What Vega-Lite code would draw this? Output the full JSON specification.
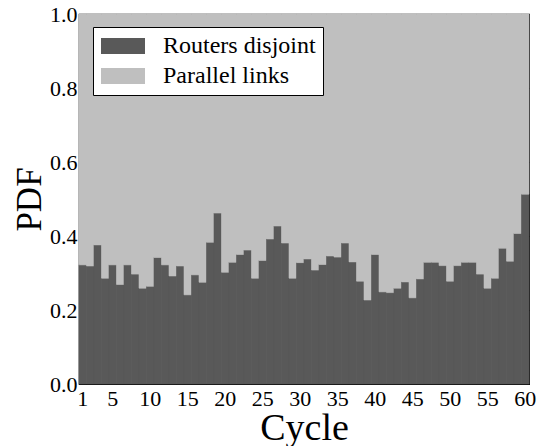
{
  "$schema": "https://vega.github.io/schema/vega-lite/v6.json",
  "width": 450,
  "height": 370,
  "autosize": "none",
  "padding": {"left": 79, "top": 14, "right": 17, "bottom": 62},
  "background": "white",
  "config": {
    "font": "Liberation Serif",
    "view": {"stroke": "#000", "strokeWidth": 1.2, "fill": "#bfbfbf"},
    "axis": {
      "domain": false,
      "grid": false,
      "tickColor": "#000",
      "tickSize": -4,
      "tickWidth": 1,
      "labelFont": "Liberation Serif",
      "labelFontSize": 22,
      "labelColor": "#000",
      "titleFont": "Liberation Serif",
      "titleColor": "#000",
      "titleFontWeight": "normal"
    },
    "legend": {"labelFont": "Liberation Serif"}
  },
  "data": {
    "values": [
      {"cycle": 1, "Routers disjoint": 0.322, "Parallel links": 0.678},
      {"cycle": 2, "Routers disjoint": 0.319, "Parallel links": 0.681},
      {"cycle": 3, "Routers disjoint": 0.376, "Parallel links": 0.624},
      {"cycle": 4, "Routers disjoint": 0.286, "Parallel links": 0.714},
      {"cycle": 5, "Routers disjoint": 0.322, "Parallel links": 0.678},
      {"cycle": 6, "Routers disjoint": 0.269, "Parallel links": 0.731},
      {"cycle": 7, "Routers disjoint": 0.322, "Parallel links": 0.678},
      {"cycle": 8, "Routers disjoint": 0.297, "Parallel links": 0.703},
      {"cycle": 9, "Routers disjoint": 0.259, "Parallel links": 0.741},
      {"cycle": 10, "Routers disjoint": 0.264, "Parallel links": 0.736},
      {"cycle": 11, "Routers disjoint": 0.342, "Parallel links": 0.658},
      {"cycle": 12, "Routers disjoint": 0.322, "Parallel links": 0.678},
      {"cycle": 13, "Routers disjoint": 0.292, "Parallel links": 0.708},
      {"cycle": 14, "Routers disjoint": 0.319, "Parallel links": 0.681},
      {"cycle": 15, "Routers disjoint": 0.241, "Parallel links": 0.759},
      {"cycle": 16, "Routers disjoint": 0.295, "Parallel links": 0.705},
      {"cycle": 17, "Routers disjoint": 0.275, "Parallel links": 0.725},
      {"cycle": 18, "Routers disjoint": 0.383, "Parallel links": 0.617},
      {"cycle": 19, "Routers disjoint": 0.462, "Parallel links": 0.538},
      {"cycle": 20, "Routers disjoint": 0.302, "Parallel links": 0.698},
      {"cycle": 21, "Routers disjoint": 0.329, "Parallel links": 0.671},
      {"cycle": 22, "Routers disjoint": 0.350, "Parallel links": 0.650},
      {"cycle": 23, "Routers disjoint": 0.362, "Parallel links": 0.638},
      {"cycle": 24, "Routers disjoint": 0.286, "Parallel links": 0.714},
      {"cycle": 25, "Routers disjoint": 0.334, "Parallel links": 0.666},
      {"cycle": 26, "Routers disjoint": 0.392, "Parallel links": 0.608},
      {"cycle": 27, "Routers disjoint": 0.427, "Parallel links": 0.573},
      {"cycle": 28, "Routers disjoint": 0.381, "Parallel links": 0.619},
      {"cycle": 29, "Routers disjoint": 0.286, "Parallel links": 0.714},
      {"cycle": 30, "Routers disjoint": 0.328, "Parallel links": 0.672},
      {"cycle": 31, "Routers disjoint": 0.338, "Parallel links": 0.662},
      {"cycle": 32, "Routers disjoint": 0.308, "Parallel links": 0.692},
      {"cycle": 33, "Routers disjoint": 0.323, "Parallel links": 0.677},
      {"cycle": 34, "Routers disjoint": 0.346, "Parallel links": 0.654},
      {"cycle": 35, "Routers disjoint": 0.343, "Parallel links": 0.657},
      {"cycle": 36, "Routers disjoint": 0.381, "Parallel links": 0.619},
      {"cycle": 37, "Routers disjoint": 0.330, "Parallel links": 0.670},
      {"cycle": 38, "Routers disjoint": 0.278, "Parallel links": 0.722},
      {"cycle": 39, "Routers disjoint": 0.227, "Parallel links": 0.773},
      {"cycle": 40, "Routers disjoint": 0.350, "Parallel links": 0.650},
      {"cycle": 41, "Routers disjoint": 0.249, "Parallel links": 0.751},
      {"cycle": 42, "Routers disjoint": 0.247, "Parallel links": 0.753},
      {"cycle": 43, "Routers disjoint": 0.259, "Parallel links": 0.741},
      {"cycle": 44, "Routers disjoint": 0.276, "Parallel links": 0.724},
      {"cycle": 45, "Routers disjoint": 0.233, "Parallel links": 0.767},
      {"cycle": 46, "Routers disjoint": 0.284, "Parallel links": 0.716},
      {"cycle": 47, "Routers disjoint": 0.329, "Parallel links": 0.671},
      {"cycle": 48, "Routers disjoint": 0.329, "Parallel links": 0.671},
      {"cycle": 49, "Routers disjoint": 0.320, "Parallel links": 0.680},
      {"cycle": 50, "Routers disjoint": 0.278, "Parallel links": 0.722},
      {"cycle": 51, "Routers disjoint": 0.320, "Parallel links": 0.680},
      {"cycle": 52, "Routers disjoint": 0.329, "Parallel links": 0.671},
      {"cycle": 53, "Routers disjoint": 0.329, "Parallel links": 0.671},
      {"cycle": 54, "Routers disjoint": 0.297, "Parallel links": 0.703},
      {"cycle": 55, "Routers disjoint": 0.259, "Parallel links": 0.741},
      {"cycle": 56, "Routers disjoint": 0.286, "Parallel links": 0.714},
      {"cycle": 57, "Routers disjoint": 0.367, "Parallel links": 0.633},
      {"cycle": 58, "Routers disjoint": 0.332, "Parallel links": 0.668},
      {"cycle": 59, "Routers disjoint": 0.407, "Parallel links": 0.593},
      {"cycle": 60, "Routers disjoint": 0.513, "Parallel links": 0.487}
    ]
  },
  "transform": [
    {"fold": ["Routers disjoint", "Parallel links"], "as": ["series", "value"]}
  ],
  "layer": [
    {
      "mark": {"type": "bar", "strokeWidth": 0.6},
      "encoding": {
        "x": {
          "field": "cycle",
          "type": "ordinal",
          "scale": {"paddingInner": 0, "paddingOuter": 0},
          "axis": {
            "values": [1, 5, 10, 15, 20, 25, 30, 35, 40, 45, 50, 55, 60],
            "labelAngle": 0,
            "labelPadding": 8,
            "title": "Cycle",
            "titleFontSize": 38,
            "titlePadding": 0
          }
        },
        "y": {
          "field": "value",
          "type": "quantitative",
          "stack": true,
          "scale": {"domain": [0, 1], "nice": false},
          "axis": {
            "values": [0, 0.2, 0.4, 0.6, 0.8, 1.0],
            "format": ".1f",
            "labelPadding": 6,
            "title": "PDF",
            "titleFontSize": 35,
            "titlePadding": 2
          }
        },
        "color": {
          "field": "series",
          "type": "nominal",
          "scale": {"domain": ["Routers disjoint", "Parallel links"], "range": ["#595959", "#bfbfbf"]},
          "legend": {
            "title": null,
            "orient": "none",
            "legendX": 14,
            "legendY": 13,
            "direction": "vertical",
            "symbolType": "M-1,-0.727H3V0.727H-1Z",
            "symbolSize": 484,
            "symbolStrokeWidth": 0,
            "symbolOpacity": 1,
            "labelFontSize": 24,
            "labelColor": "#000",
            "labelOffset": 39,
            "labelLimit": 300,
            "padding": 7,
            "rowPadding": 6,
            "strokeColor": "#000",
            "fillColor": "#fff"
          }
        },
        "stroke": {
          "field": "series",
          "type": "nominal",
          "scale": {"domain": ["Routers disjoint", "Parallel links"], "range": ["#595959", "#bfbfbf"]},
          "legend": null
        },
        "order": {"field": "series", "sort": "descending"}
      }
    },
    {
      "mark": {"type": "bar", "opacity": 0},
      "encoding": {
        "x": {
          "field": "cycle",
          "type": "ordinal",
          "axis": {
            "orient": "top",
            "values": [1, 5, 10, 15, 20, 25, 30, 35, 40, 45, 50, 55, 60],
            "labels": false,
            "title": null
          }
        },
        "y": {
          "field": "value",
          "type": "quantitative",
          "stack": null,
          "axis": {
            "orient": "right",
            "values": [0, 0.2, 0.4, 0.6, 0.8, 1.0],
            "labels": false,
            "title": null
          }
        }
      }
    }
  ],
  "resolve": {"axis": {"x": "independent", "y": "independent"}}
}
